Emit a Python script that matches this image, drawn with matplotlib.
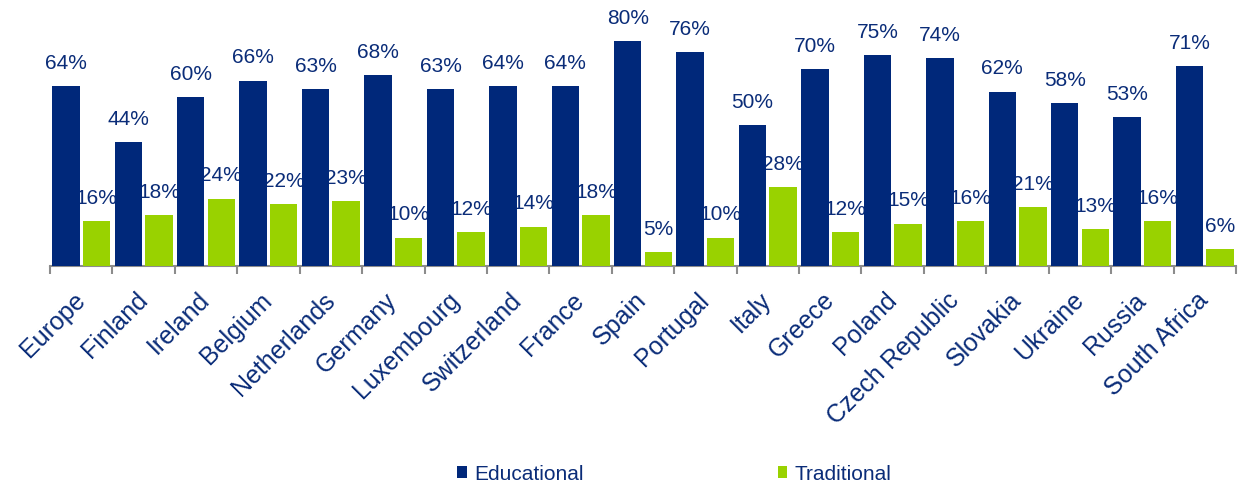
import numpy as np
import matplotlib.pyplot as plt

plt.rcParams['font.family'] = ['Liberation Sans', 'DejaVu Sans']

# Share of respondents by country
countries = ['Europe', 'Finland', 'Ireland', 'Belgium', 'Netherlands', 'Germany',
             'Luxembourg', 'Switzerland', 'France', 'Spain', 'Portugal', 'Italy',
             'Greece', 'Poland', 'Czech Republic', 'Slovakia', 'Ukraine', 'Russia',
             'South Africa']
educational = [64, 44, 60, 66, 63, 68, 63, 64, 64, 80, 76, 50, 70, 75, 74, 62, 58, 53, 71]
traditional = [16, 18, 24, 22, 23, 10, 12, 14, 18, 5, 10, 28, 12, 15, 16, 21, 13, 16, 6]

navy = '#00287A'
green = '#99D200'
text_col = '#0A2C78'

fig = plt.figure(figsize=(12.41, 4.84), dpi=100)
ax = fig.add_axes([50 / 1241, 1 - 266 / 484, (1236 - 50) / 1241, 266 / 484])

x = np.arange(len(countries))
w = 0.44
off = 0.245
b1 = ax.bar(x - off, educational, w, color=navy, label='Educational', zorder=3)
b2 = ax.bar(x + off, traditional, w, color=green, label='Traditional', zorder=3)

# value labels sit behind the bars, as in the original deck
for bars, vals in ((b1, educational), (b2, traditional)):
    for r, v in zip(bars, vals):
        ax.annotate(f'{v}%', (r.get_x() + r.get_width() / 2, v),
                    xytext=(0, 16.5), textcoords='offset points',
                    ha='center', va='center', fontsize=15, color=text_col,
                    zorder=1, annotation_clip=False)

ax.set_xlim(-0.5, len(countries) - 0.5)
ax.set_ylim(0, 266 / 2.81)
ax.set_yticks([])
for s in ('top', 'right', 'left'):
    ax.spines[s].set_visible(False)
ax.spines['bottom'].set_color('#8C8C8C')
ax.spines['bottom'].set_linewidth(1.5)

ax.set_xticks(x)
ax.set_xticklabels(countries, rotation=45, ha='right', va='center',
                   rotation_mode='anchor', fontsize=18, color=text_col)
ax.tick_params(axis='x', which='major', length=0, pad=22)
ax.set_xticks(np.arange(-0.5, len(countries)), minor=True)
ax.tick_params(axis='x', which='minor', length=6, width=1.5, color='#8C8C8C')

leg = fig.legend(handles=[b1, b2], loc='center', bbox_to_anchor=(0.5435, 1 - 474 / 484),
                 ncol=2, frameon=False, fontsize=15, handlelength=0.45,
                 handleheight=0.45, handletextpad=0.35, columnspacing=9.33)
for t in leg.get_texts():
    t.set_color(text_col)

fig.savefig('out.png', dpi=100)
